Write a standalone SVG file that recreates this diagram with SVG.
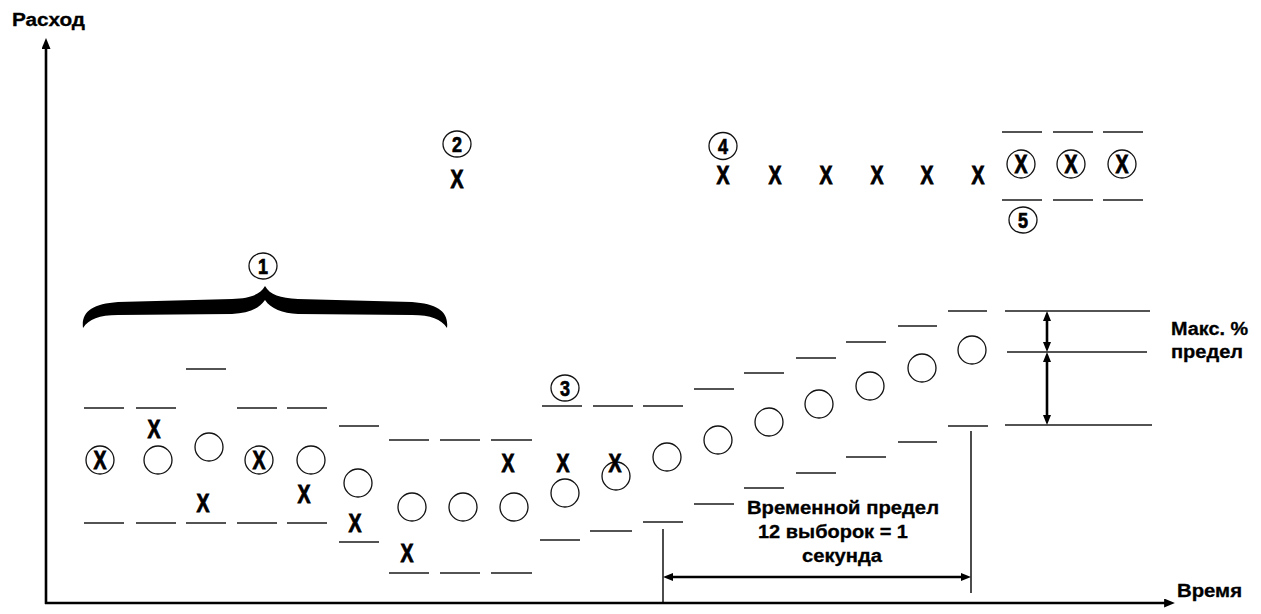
<svg xmlns="http://www.w3.org/2000/svg" width="1261" height="614" viewBox="0 0 1261 614">
<style>
.bg{fill:#fff}
.lim{stroke:#1a1a1a;stroke-width:1.5;fill:none}
.pt{fill:none;stroke:#111;stroke-width:1.3}
.x{font-family:"Liberation Sans",Arial,sans-serif;font-weight:bold;font-size:26px;fill:#000;stroke:#000;stroke-width:0.9;text-anchor:middle}
.num{font-family:"Liberation Sans",Arial,sans-serif;font-weight:bold;font-size:22px;fill:#000;stroke:#000;stroke-width:0.7;text-anchor:middle}
.lbl{font-family:"Liberation Sans",Arial,sans-serif;font-weight:bold;font-size:18px;fill:#000;stroke:#000;stroke-width:0.3}
.axis{stroke:#000;stroke-width:2.6;fill:none}
.dim{stroke:#000;stroke-width:2.6;fill:none}
.tick{stroke:#000;stroke-width:1.4;fill:none}
</style>
<defs>
<marker id="ah" viewBox="0 0 12 10" refX="1" refY="5" markerWidth="12" markerHeight="9" markerUnits="userSpaceOnUse" orient="auto-start-reverse"><path d="M0,0 L12,5 L0,10 Z" fill="#000"/></marker>
<marker id="dh" viewBox="0 0 10 8" refX="1" refY="4" markerWidth="10" markerHeight="8" markerUnits="userSpaceOnUse" orient="auto-start-reverse"><path d="M0,0 L10,4 L0,8 Z" fill="#000"/></marker>
</defs>
<rect class="bg" x="0" y="0" width="1261" height="614"/>

<g id="connectors">
<line class="axis" x1="46" y1="604" x2="46" y2="48" marker-end="url(#ah)"/>
<line class="axis" x1="45" y1="603" x2="1165" y2="603" marker-end="url(#ah)"/>
<line class="tick" x1="663" y1="529" x2="663" y2="603"/>
<line class="tick" x1="971" y1="431" x2="971" y2="593"/>
<line class="dim" x1="672" y1="577" x2="962" y2="577" marker-start="url(#dh)" marker-end="url(#dh)"/>
<line class="dim" x1="1047" y1="320" x2="1047" y2="343" marker-start="url(#dh)" marker-end="url(#dh)"/>
<line class="dim" x1="1047" y1="361" x2="1047" y2="416" marker-start="url(#dh)" marker-end="url(#dh)"/>
</g>

<g id="axis-labels">
<text class="lbl" x="12" y="26" textLength="73" lengthAdjust="spacingAndGlyphs">Расход</text>
<text class="lbl" x="1177" y="597" textLength="65" lengthAdjust="spacingAndGlyphs">Время</text>
</g>

<g id="brace">
<path d="M83,328 C81,312 92,304 118,302 L232,299 C250,298 260,295 265,286 C270,295 280,298 298,299 L412,302 C438,304 449,312 447,328 C441,319 431,315 412,315 L298,314 C282,313 271,309 265,300 C259,309 248,313 232,314 L118,315 C99,315 89,319 83,328 Z" fill="#000"/>
</g>

<g id="marker-1"><ellipse class="pt" cx="263" cy="266" rx="14" ry="13"/><text class="num" x="263" y="274" textLength="10" lengthAdjust="spacingAndGlyphs">1</text></g>
<g id="marker-2"><ellipse class="pt" cx="457" cy="144" rx="14" ry="13"/><text class="num" x="457" y="152" textLength="10" lengthAdjust="spacingAndGlyphs">2</text></g>
<g id="marker-3"><ellipse class="pt" cx="565" cy="388" rx="14" ry="13"/><text class="num" x="565" y="396" textLength="10" lengthAdjust="spacingAndGlyphs">3</text></g>
<g id="marker-4"><ellipse class="pt" cx="723" cy="146" rx="14" ry="13.5"/><text class="num" x="723" y="154" textLength="10" lengthAdjust="spacingAndGlyphs">4</text></g>
<g id="marker-5"><ellipse class="pt" cx="1023" cy="220" rx="14" ry="13"/><text class="num" x="1023" y="228" textLength="10" lengthAdjust="spacingAndGlyphs">5</text></g>

<g id="col1"><line class="lim" x1="84" y1="408" x2="124" y2="408"/><line class="lim" x1="84" y1="523" x2="124" y2="523"/><circle class="pt" cx="100" cy="460" r="14"/><text class="x" x="100" y="469" textLength="13" lengthAdjust="spacingAndGlyphs">X</text></g>
<g id="col2"><line class="lim" x1="136" y1="408" x2="176" y2="408"/><line class="lim" x1="136" y1="523" x2="176" y2="523"/><text class="x" x="154" y="438" textLength="13" lengthAdjust="spacingAndGlyphs">X</text><circle class="pt" cx="158" cy="460" r="14"/></g>
<g id="col3"><line class="lim" x1="186" y1="369" x2="226" y2="369"/><line class="lim" x1="186" y1="523" x2="226" y2="523"/><circle class="pt" cx="209" cy="447" r="14"/><text class="x" x="203" y="512" textLength="13" lengthAdjust="spacingAndGlyphs">X</text></g>
<g id="col4"><line class="lim" x1="237" y1="408" x2="277" y2="408"/><line class="lim" x1="237" y1="523" x2="277" y2="523"/><circle class="pt" cx="259" cy="460" r="14"/><text class="x" x="259" y="469" textLength="13" lengthAdjust="spacingAndGlyphs">X</text></g>
<g id="col5"><line class="lim" x1="287" y1="408" x2="327" y2="408"/><line class="lim" x1="287" y1="523" x2="327" y2="523"/><circle class="pt" cx="311" cy="460" r="14"/><text class="x" x="304" y="503" textLength="13" lengthAdjust="spacingAndGlyphs">X</text></g>
<g id="col6"><line class="lim" x1="339" y1="426" x2="379" y2="426"/><line class="lim" x1="339" y1="542" x2="379" y2="542"/><circle class="pt" cx="358" cy="483" r="14"/><text class="x" x="355" y="532" textLength="13" lengthAdjust="spacingAndGlyphs">X</text></g>
<g id="col7"><line class="lim" x1="389" y1="440" x2="429" y2="440"/><line class="lim" x1="389" y1="573" x2="429" y2="573"/><circle class="pt" cx="412" cy="507" r="14"/><text class="x" x="407" y="562" textLength="13" lengthAdjust="spacingAndGlyphs">X</text></g>
<g id="col8"><line class="lim" x1="440" y1="440" x2="480" y2="440"/><line class="lim" x1="440" y1="573" x2="480" y2="573"/><circle class="pt" cx="463" cy="507" r="14"/></g>
<g id="col9"><line class="lim" x1="491" y1="440" x2="532" y2="440"/><line class="lim" x1="491" y1="573" x2="532" y2="573"/><text class="x" x="508" y="472" textLength="13" lengthAdjust="spacingAndGlyphs">X</text><circle class="pt" cx="514" cy="507" r="14"/></g>
<g id="col10"><line class="lim" x1="542" y1="406" x2="582" y2="406"/><line class="lim" x1="540" y1="540" x2="580" y2="540"/><text class="x" x="563" y="472" textLength="13" lengthAdjust="spacingAndGlyphs">X</text><circle class="pt" cx="565" cy="493" r="14"/></g>
<g id="col11"><line class="lim" x1="593" y1="406" x2="633" y2="406"/><line class="lim" x1="590" y1="531" x2="632" y2="531"/><circle class="pt" cx="616" cy="476" r="14"/><text class="x" x="615" y="472" textLength="13" lengthAdjust="spacingAndGlyphs">X</text></g>
<g id="col12"><line class="lim" x1="643" y1="406" x2="683" y2="406"/><line class="lim" x1="643" y1="522" x2="683" y2="522"/><circle class="pt" cx="667" cy="457" r="14"/></g>
<g id="col13"><line class="lim" x1="694" y1="389" x2="734" y2="389"/><line class="lim" x1="694" y1="504" x2="734" y2="504"/><circle class="pt" cx="718" cy="440" r="14"/></g>
<g id="col14"><line class="lim" x1="744" y1="373" x2="784" y2="373"/><line class="lim" x1="744" y1="488" x2="784" y2="488"/><circle class="pt" cx="769" cy="422" r="14"/></g>
<g id="col15"><line class="lim" x1="796" y1="358" x2="836" y2="358"/><line class="lim" x1="796" y1="473" x2="836" y2="473"/><circle class="pt" cx="819" cy="404" r="14"/></g>
<g id="col16"><line class="lim" x1="846" y1="342" x2="886" y2="342"/><line class="lim" x1="846" y1="457" x2="886" y2="457"/><circle class="pt" cx="870" cy="386" r="14"/></g>
<g id="col17"><line class="lim" x1="898" y1="326" x2="937" y2="326"/><line class="lim" x1="898" y1="442" x2="937" y2="442"/><circle class="pt" cx="922" cy="368" r="14"/></g>
<g id="col18"><line class="lim" x1="948" y1="311" x2="987" y2="311"/><line class="lim" x1="948" y1="426" x2="988" y2="426"/><circle class="pt" cx="972" cy="350" r="14"/></g>

<g id="spike2"><text class="x" x="457" y="188" textLength="13" lengthAdjust="spacingAndGlyphs">X</text></g>
<g id="run4">
<text class="x" x="723" y="184" textLength="13" lengthAdjust="spacingAndGlyphs">X</text>
<text class="x" x="775" y="184" textLength="13" lengthAdjust="spacingAndGlyphs">X</text>
<text class="x" x="826" y="184" textLength="13" lengthAdjust="spacingAndGlyphs">X</text>
<text class="x" x="877" y="184" textLength="13" lengthAdjust="spacingAndGlyphs">X</text>
<text class="x" x="927" y="184" textLength="13" lengthAdjust="spacingAndGlyphs">X</text>
<text class="x" x="978" y="184" textLength="13" lengthAdjust="spacingAndGlyphs">X</text>
</g>
<g id="top1"><line class="lim" x1="1002" y1="132" x2="1042" y2="132"/><line class="lim" x1="1002" y1="200" x2="1042" y2="200"/><circle class="pt" cx="1021" cy="164" r="14"/><text class="x" x="1021" y="173" textLength="13" lengthAdjust="spacingAndGlyphs">X</text></g>
<g id="top2"><line class="lim" x1="1053" y1="132" x2="1093" y2="132"/><line class="lim" x1="1053" y1="200" x2="1093" y2="200"/><circle class="pt" cx="1071" cy="164" r="14"/><text class="x" x="1071" y="173" textLength="13" lengthAdjust="spacingAndGlyphs">X</text></g>
<g id="top3"><line class="lim" x1="1103" y1="132" x2="1143" y2="132"/><line class="lim" x1="1103" y1="200" x2="1143" y2="200"/><circle class="pt" cx="1122" cy="164" r="14"/><text class="x" x="1122" y="173" textLength="13" lengthAdjust="spacingAndGlyphs">X</text></g>

<g id="max-limit">
<line class="lim" x1="1005" y1="311" x2="1150" y2="311"/>
<line class="lim" x1="1007" y1="352" x2="1147" y2="352"/>
<line class="lim" x1="1005" y1="425" x2="1152" y2="425"/>
<text class="lbl" x="1171" y="335" textLength="77" lengthAdjust="spacingAndGlyphs">Макс. %</text>
<text class="lbl" x="1171" y="358" textLength="72" lengthAdjust="spacingAndGlyphs">предел</text>
</g>

<g id="time-limit">
<text class="lbl" x="747" y="514" textLength="192" lengthAdjust="spacingAndGlyphs">Временной предел</text>
<text class="lbl" x="758" y="538" textLength="150" lengthAdjust="spacingAndGlyphs">12 выборок = 1</text>
<text class="lbl" x="802" y="562" textLength="80" lengthAdjust="spacingAndGlyphs">секунда</text>
</g>
</svg>
